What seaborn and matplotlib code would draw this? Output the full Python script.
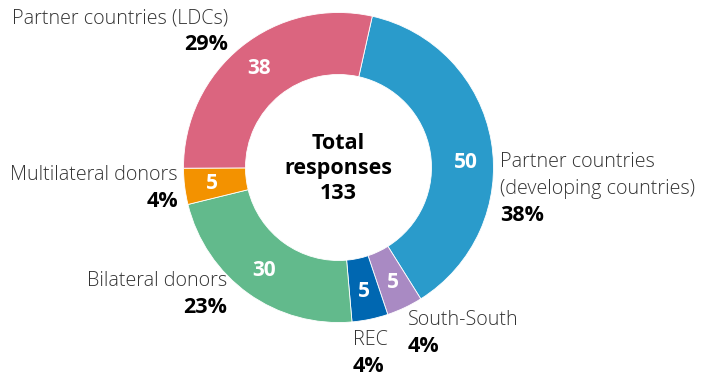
import matplotlib
matplotlib.use("Agg")
import matplotlib.pyplot as plt
import seaborn as sns
import numpy as np

sns.set_theme(style="white")
plt.rcParams['font.family'] = ['Open Sans', 'DejaVu Sans']

categories = ["Partner countries (developing countries)", "South-South", "REC",
              "Bilateral donors", "Multilateral donors", "Partner countries (LDCs)"]
values = [50, 5, 5, 30, 5, 38]
colors = ["#2A9BCB", "#A98AC3", "#0067B1", "#62BA8C", "#F39200", "#DB657F"]
label_lines = [["Partner countries", "(developing countries)"], ["South-South"], ["REC"],
               ["Bilateral donors"], ["Multilateral donors"], ["Partner countries (LDCs)"]]
total = sum(values)
pcts = [f"{round(v / total * 100)}%" for v in values]

W, H = 707, 376
CX, CY, R = 338.5, 167.5, 155.0

def px(x, y):
    return ((x - CX) / R, (CY - y) / R)

fig = plt.figure(figsize=(W / 100, H / 100), dpi=100)
ax = fig.add_axes([0, 0, 1, 1])

wedges, _ = ax.pie(values, colors=colors, startangle=77.4, counterclock=False,
                   radius=1.0, wedgeprops=dict(width=0.4, edgecolor='white', linewidth=0.6))
ax.set_xlim(-CX / R, (W - CX) / R)
ax.set_ylim(-(H - CY) / R, CY / R)
ax.set_aspect('equal')
ax.axis('off')

# value labels inside the ring
nudge = {0: 7.5}
cum = 0
for i, v in enumerate(values):
    mid = 12.6 + (cum + v / 2) / total * 360 + nudge.get(i, 0)
    cum += v
    r = 0.82
    x, y = r * np.sin(np.radians(mid)), r * np.cos(np.radians(mid))
    ax.text(x, y, str(v), ha='center', va='center', color='white',
            fontsize=15, fontweight='bold')

# outside labels: (anchor px x, first line px y, ha)
label_pos = [(500, 162, 'left'), (408, 320, 'left'), (353, 340, 'left'),
             (227, 281, 'right'), (178, 175, 'right'), (228, 18, 'right')]
lh = 26.5
for i, (lx, ly, ha) in enumerate(label_pos):
    for j, line in enumerate(label_lines[i]):
        x, y = px(lx, ly + j * lh)
        ax.text(x, y, line, ha=ha, va='center', color='#333333', fontsize=14.2,
                fontweight='light')
    x, y = px(lx, ly + len(label_lines[i]) * lh)
    ax.text(x, y, pcts[i], ha=ha, va='center', color='black', fontsize=15.5,
            fontweight='bold')

# center text
for j, line in enumerate(["Total", "responses", str(total)]):
    x, y = px(CX, 143 + j * 25)
    ax.text(x, y, line, ha='center', va='center', color='black', fontsize=15.5,
            fontweight='bold')

fig.savefig("out.png", dpi=100)
